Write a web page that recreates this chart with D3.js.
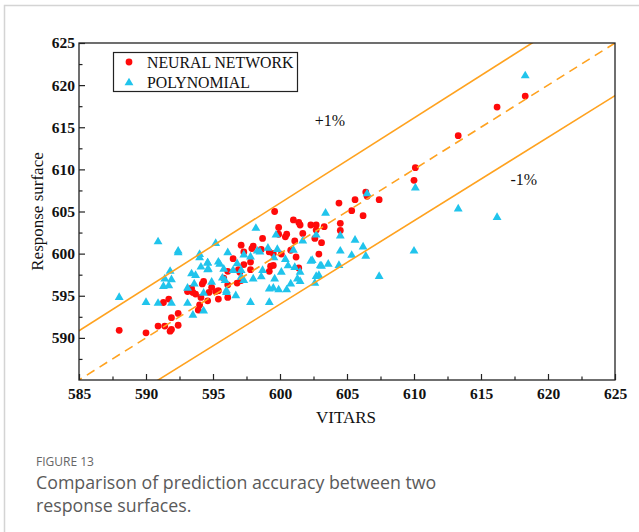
<!DOCTYPE html>
<html>
<head>
<meta charset="utf-8">
<script src="https://cdn.jsdelivr.net/npm/d3@7"></script>
<style>
  html, body { margin: 0; padding: 0; background: #fff; }
  svg { display: block; }
</style>
</head>
<body>
<svg id="chart" width="639" height="532"></svg>
<script>
// Neural-network predictions vs. VITARS: [VITARS, response surface]
const neuralX = [588.0,590.0,590.9,591.4,591.8,591.9,592.4,591.9,592.4,591.3,591.7,593.1,593.4,593.5,593.7,594.1,594.2,594.3,594.6,594.0,593.9,594.9,595.4,595.2,594.7,596.1,595.4,596.1,596.8,597.1,595.8,596.1,596.9,597.0,597.8,597.3,597.8,596.5,597.1,598.0,597.9,598.6,597.3,599.2,599.5,600.1,598.7,599.3,599.5,599.2,599.6,601.0,601.4,601.5,599.9,599.9,600.4,600.5,601.7,602.3,602.7,603.3,602.7,602.6,603.1,601.1,600.8,601.2,602.9,601.4,604.4,604.5,604.5,605.35,605.6,606.2,606.4,606.5,607.4,610.1,610.0,613.3,616.2,618.3];
const neuralY = [590.9,590.6,591.4,591.4,590.8,591.0,591.5,592.4,592.9,594.2,594.6,595.5,595.9,595.4,595.2,594.8,596.4,596.7,594.4,593.9,593.3,596.0,595.6,595.5,595.4,594.8,594.6,596.3,596.5,596.8,597.1,597.9,598.1,597.8,598.1,598.7,599.0,599.4,601.0,600.9,600.6,600.5,600.2,600.2,600.0,599.95,601.8,598.5,598.6,597.9,605.0,604.0,603.7,603.4,603.1,602.3,602.0,602.3,602.4,603.4,603.4,603.2,602.8,601.8,601.3,601.5,600.4,599.6,599.95,598.3,606.0,603.6,602.75,605.1,606.4,604.5,607.3,606.8,606.4,610.2,608.7,614.0,617.4,618.7];

// Polynomial response-surface predictions vs. VITARS
const polyX = [588.0,590.0,590.9,591.9,593.1,594.3,593.5,590.9,592.4,592.4,594.0,594.0,594.6,594.6,594.1,591.8,593.4,593.7,591.4,591.9,591.3,591.7,593.1,593.6,594.3,594.9,596.0,596.7,597.8,599.2,599.2,599.5,599.9,600.5,600.8,601.3,601.5,602.6,603.4,598.2,599.7,595.2,601.7,602.7,599.1,598.5,598.3,599.8,601.0,596.1,597.3,597.8,599.55,600.4,602.3,594.6,595.4,595.5,596.8,594.65,595.8,596.5,597.1,598.7,600.6,601.1,601.5,600.1,603.0,602.9,602.7,603.6,599.6,598.6,598.0,597.3,597.1,595.9,595.7,596.0,604.5,605.6,604.5,606.2,605.35,606.4,610.0,603.1,604.4,602.4,607.4,610.1,606.5,613.3,616.2,618.3];
const polyY = [594.9,594.3,594.2,594.2,594.2,593.3,592.8,601.5,600.4,600.2,600.0,599.6,599.0,598.2,598.5,598.0,597.7,597.5,597.1,597.0,596.2,596.3,596.0,596.5,595.4,596.7,595.5,595.1,594.3,594.3,595.9,596.0,595.8,595.8,596.5,597.1,596.8,596.6,604.9,603.1,602.3,601.3,601.6,602.3,600.75,600.3,600.4,600.6,600.5,600.2,599.95,599.7,599.6,599.4,599.2,599.0,599.1,598.85,598.9,598.25,598.25,598.1,598.1,598.1,598.65,598.45,597.9,597.9,598.65,597.5,597.4,598.85,597.1,597.35,597.1,596.9,597.3,596.9,597.2,595.7,602.2,601.7,600.4,600.9,599.9,599.8,600.4,598.6,598.7,599.3,597.4,607.9,607.2,605.4,604.4,621.2];

// Axis ticks and reference bands (ratio of response surface to VITARS)
const xTicks = [585,590,595,600,605,610,615,620,625];
const yTicks = [590,595,600,605,610,615,620,625];
const bandRatios = [1.01, 1.00, 0.99];
const bandLabels = ["+1%", "-1%"];
const seriesNames = ["NEURAL NETWORK", "POLYNOMIAL"];

const svg = d3.select("#chart");
const W = 639, H = 532;

// card frame (top and left edges visible)
svg.append("path")
  .attr("d", `M4.5,${H} V5.5 H${W}`)
  .attr("fill", "none").attr("stroke", "#d4d4d4").attr("stroke-width", 1.5);

const plot = { left: 79, right: 615, top: 43, bottom: 380 };
const x = d3.scaleLinear().domain([585, 625]).range([plot.left, plot.right]);
const y = d3.scaleLinear().domain([585, 625]).range([plot.bottom, plot.top]);

const RED = "#ff0a0a", CYAN = "#20c4ec", ORANGE = "#ffa21f";
const serif = "'Liberation Serif', 'Times New Roman', serif";

// clip for reference lines
svg.append("clipPath").attr("id", "plotClip")
  .append("rect").attr("x", plot.left).attr("y", plot.top)
  .attr("width", plot.right - plot.left).attr("height", plot.bottom - plot.top);

const g = svg.append("g");

// points: neural network circles, polynomial triangles on top
const neural = neuralX.map((v, i) => [v, neuralY[i]]);
const poly = polyX.map((v, i) => [v, polyY[i]]);

g.append("g").selectAll("circle").data(neural).join("circle")
  .attr("cx", d => x(d[0])).attr("cy", d => y(d[1]))
  .attr("r", 3.4).attr("fill", RED);

const tri = d3.symbol().type(d3.symbolTriangle).size(34);
g.append("g").selectAll("path").data(poly).join("path")
  .attr("transform", d => `translate(${x(d[0])},${y(d[1]) + 0.8})`)
  .attr("d", tri).attr("fill", CYAN);

// reference lines y = k * x
const lineGen = d3.line().x(d => x(d[0])).y(d => y(d[1]));
const lines = g.append("g").attr("clip-path", "url(#plotClip)");
bandRatios.forEach(k => {
  lines.append("path")
    .datum([[560, 560 * k], [650, 650 * k]])
    .attr("d", lineGen)
    .attr("fill", "none").attr("stroke", ORANGE).attr("stroke-width", 1.6)
    .attr("stroke-dasharray", k === 1 ? "9,6" : null);
});

// frame
svg.append("rect")
  .attr("x", plot.left).attr("y", plot.top)
  .attr("width", plot.right - plot.left).attr("height", plot.bottom - plot.top)
  .attr("fill", "none").attr("stroke", "#222").attr("stroke-width", 1.3);

// axes with inward ticks
const minorX = d3.range(587.5, 625, 5);
const minorY = d3.range(587.5, 625, 5);

function styleAxis(sel) {
  sel.select(".domain").remove();
  sel.selectAll(".tick line").attr("stroke", "#222").attr("stroke-width", 1.2);
  sel.selectAll(".tick text")
    .attr("font-family", serif).attr("font-weight", "bold")
    .attr("font-size", "15.5px").attr("fill", "#111");
}

svg.append("g").attr("transform", `translate(0,${plot.bottom})`)
  .call(d3.axisBottom(x).tickValues(xTicks).tickFormat(d3.format("d"))
    .tickSizeInner(-6).tickSizeOuter(0).tickPadding(8))
  .call(styleAxis);
svg.append("g").attr("transform", `translate(0,${plot.bottom})`)
  .call(d3.axisBottom(x).tickValues(minorX).tickFormat("")
    .tickSizeInner(-3.5).tickSizeOuter(0))
  .call(styleAxis);

svg.append("g").attr("transform", `translate(${plot.left},0)`)
  .call(d3.axisLeft(y).tickValues(yTicks).tickFormat(d3.format("d"))
    .tickSizeInner(-6).tickSizeOuter(0).tickPadding(4))
  .call(styleAxis);
svg.append("g").attr("transform", `translate(${plot.left},0)`)
  .call(d3.axisLeft(y).tickValues(minorY).tickFormat("")
    .tickSizeInner(-3.5).tickSizeOuter(0))
  .call(styleAxis);

// axis titles
svg.append("text")
  .attr("x", (plot.left + plot.right) / 2 - 1).attr("y", 423)
  .attr("text-anchor", "middle")
  .attr("font-family", serif).attr("font-size", "17px").attr("fill", "#111")
  .text("VITARS");
svg.append("text")
  .attr("transform", `translate(43,${(plot.top + plot.bottom) / 2}) rotate(-90)`)
  .attr("text-anchor", "middle")
  .attr("font-family", serif).attr("font-size", "17px").attr("fill", "#111")
  .text("Response surface");

// band labels
svg.append("text").attr("x", x(602.6)).attr("y", y(615.1))
  .attr("font-family", serif).attr("font-size", "16px").attr("fill", "#111")
  .text(bandLabels[0]);
svg.append("text").attr("x", x(617.2)).attr("y", y(608.1))
  .attr("font-family", serif).attr("font-size", "16px").attr("fill", "#111")
  .text(bandLabels[1]);

// legend
const leg = svg.append("g");
leg.append("rect").attr("x", 113.5).attr("y", 52.5).attr("width", 184).attr("height", 39)
  .attr("fill", "#fff").attr("stroke", "#222").attr("stroke-width", 1.2);
leg.append("circle").attr("cx", 129).attr("cy", 62).attr("r", 3.4).attr("fill", RED);
leg.append("path").attr("transform", "translate(129,82.8)").attr("d", tri).attr("fill", CYAN);
seriesNames.forEach((name, i) => {
  leg.append("text").attr("x", 147).attr("y", 67.5 + i * 20)
    .attr("font-family", serif).attr("font-size", "15.8px").attr("fill", "#111")
    .text(name);
});

// caption
const sans = "'Open Sans', 'Noto Sans', sans-serif";
svg.append("text").attr("x", 36).attr("y", 466)
  .attr("font-family", sans).attr("font-size", "12px").attr("fill", "#666")
  .text("FIGURE 13");
svg.append("text").attr("x", 36).attr("y", 489)
  .attr("font-family", sans).attr("font-size", "17.8px").attr("fill", "#5a5a5a")
  .text("Comparison of prediction accuracy between two");
svg.append("text").attr("x", 36).attr("y", 512)
  .attr("font-family", sans).attr("font-size", "17.8px").attr("fill", "#5a5a5a")
  .text("response surfaces.");
</script>
</body>
</html>
